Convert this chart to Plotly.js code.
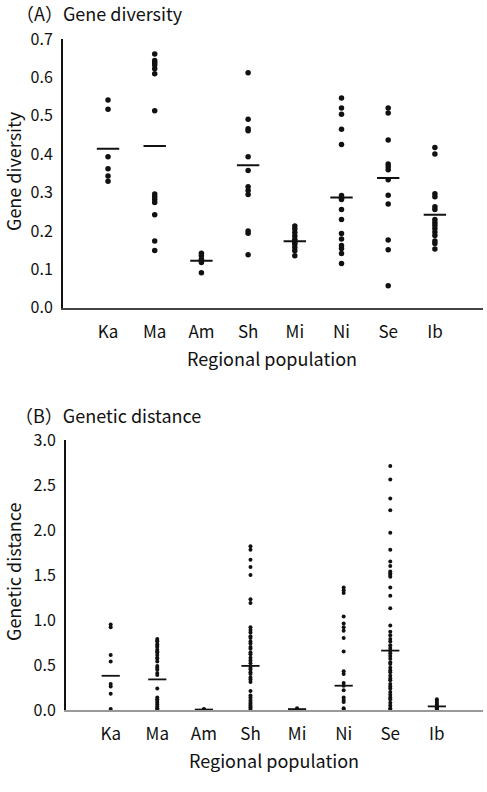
<!DOCTYPE html>
<html>
<head>
<meta charset="utf-8">
<script src="https://cdn.plot.ly/plotly-3.0.1.min.js"></script>
<style>
  html, body { margin: 0; padding: 0; background: #fff; }
  #chart { width: 487px; height: 792px; }
</style>
</head>
<body>
<div id="chart"></div>
<script>
// Regional populations (x categories, same order in both panels)
const regions = ["Ka", "Ma", "Am", "Sh", "Mi", "Ni", "Se", "Ib"];

// (A) Gene diversity per locus, by regional population
const diversityKa = [0.541, 0.517, 0.393, 0.362, 0.343, 0.329];
const diversityMa = [0.661, 0.644, 0.638, 0.632, 0.622, 0.609, 0.513, 0.296, 0.289, 0.282, 0.274, 0.242, 0.174, 0.149];
const diversityAm = [0.142, 0.135, 0.126, 0.118, 0.091];
const diversitySh = [0.612, 0.491, 0.466, 0.461, 0.393, 0.357, 0.315, 0.305, 0.295, 0.200, 0.194, 0.138];
const diversityMi = [0.213, 0.205, 0.196, 0.187, 0.178, 0.170, 0.165, 0.157, 0.148, 0.135];
const diversityNi = [0.546, 0.520, 0.504, 0.465, 0.425, 0.292, 0.285, 0.282, 0.256, 0.230, 0.193, 0.179, 0.162, 0.154, 0.141, 0.115];
const diversitySe = [0.520, 0.507, 0.437, 0.374, 0.367, 0.359, 0.333, 0.293, 0.270, 0.176, 0.151, 0.057];
const diversityIb = [0.417, 0.400, 0.297, 0.289, 0.263, 0.256, 0.230, 0.222, 0.215, 0.206, 0.197, 0.188, 0.174, 0.167, 0.153];
const diversityMean = [0.414, 0.421, 0.122, 0.371, 0.173, 0.287, 0.338, 0.242];

// (B) Pairwise genetic distance, by regional population
const distanceKa = [0.95, 0.92, 0.61, 0.54, 0.29, 0.26, 0.18, 0.01];
const distanceMa = [0.79, 0.77, 0.76, 0.73, 0.71, 0.70, 0.67, 0.65, 0.64, 0.61, 0.58, 0.57, 0.54, 0.49, 0.47, 0.45, 0.41, 0.39, 0.24, 0.14, 0.12, 0.10, 0.08, 0.06, 0.04, 0.02, 0.01];
const distanceAm = [0.01, 0.005, 0.0];
const distanceSh = [1.82, 1.78, 1.67, 1.59, 1.50, 1.23, 1.19, 0.92, 0.89, 0.86, 0.82, 0.80, 0.76, 0.74, 0.70, 0.68, 0.64, 0.62, 0.58, 0.55, 0.52, 0.47, 0.45, 0.42, 0.40, 0.36, 0.34, 0.31, 0.21, 0.16, 0.14, 0.11, 0.09, 0.07, 0.05, 0.03, 0.01];
const distanceMi = [0.02, 0.01, 0.0];
const distanceNi = [1.36, 1.33, 1.30, 1.04, 0.96, 0.92, 0.88, 0.80, 0.65, 0.43, 0.40, 0.30, 0.27, 0.22, 0.14, 0.11, 0.09, 0.02, 0.0];
const distanceSe = [2.71, 2.56, 2.35, 2.22, 1.97, 1.78, 1.65, 1.60, 1.54, 1.52, 1.50, 1.48, 1.36, 1.27, 1.13, 0.94, 0.87, 0.83, 0.79, 0.76, 0.72, 0.69, 0.66, 0.63, 0.60, 0.57, 0.53, 0.51, 0.47, 0.44, 0.42, 0.38, 0.35, 0.33, 0.29, 0.26, 0.24, 0.20, 0.17, 0.14, 0.12, 0.08, 0.05, 0.02, 0.0];
const distanceIb = [0.12, 0.10, 0.08, 0.06, 0.04, 0.03, 0.02, 0.01, 0.0];
const distanceMean = [0.38, 0.34, 0.005, 0.49, 0.01, 0.27, 0.66, 0.04];

// Tick labels for the value axes
const diversityTicks = [0.0, 0.1, 0.2, 0.3, 0.4, 0.5, 0.6, 0.7];
const distanceTicks = [0.0, 0.5, 1.0, 1.5, 2.0, 2.5, 3.0];

const FONT = '"Noto Sans CJK JP", "Noto Sans", sans-serif';
const INK = '#111';

const diversityGroups = [diversityKa, diversityMa, diversityAm, diversitySh, diversityMi, diversityNi, diversitySe, diversityIb];
const distanceGroups = [distanceKa, distanceMa, distanceAm, distanceSh, distanceMi, distanceNi, distanceSe, distanceIb];

// Flatten per-population values into one dot-strip trace
function strip(groups, xa, ya, size) {
  const xs = [], ys = [];
  groups.forEach((vals, i) => vals.forEach(v => { xs.push(regions[i]); ys.push(v); }));
  return {
    type: 'scatter', mode: 'markers', x: xs, y: ys, xaxis: xa, yaxis: ya,
    marker: { symbol: 'circle', size: size, color: INK, line: { width: 0 } },
    hoverinfo: 'x+y', showlegend: false
  };
}

// Short horizontal bar at each population mean
function meanBars(means, xa, ya, width, thick) {
  return {
    type: 'scatter', mode: 'markers', x: regions, y: means, xaxis: xa, yaxis: ya,
    marker: { symbol: 'line-ew', size: width, color: INK, line: { width: thick, color: INK } },
    hoverinfo: 'x+y', showlegend: false
  };
}

const traces = [
  strip(diversityGroups, 'x', 'y', 5.5),
  meanBars(diversityMean, 'x', 'y', 16, 2),
  strip(distanceGroups, 'x2', 'y2', 4),
  meanBars(distanceMean, 'x2', 'y2', 13, 1.8)
];

const H = 792, W = 487;
const px = v => v / W;          // horizontal pixel -> paper fraction
const py = v => 1 - v / H;      // vertical pixel (from top) -> paper fraction

const catAxis = (domain, range, lineColor) => ({
  type: 'category', categoryorder: 'array', categoryarray: regions,
  domain: domain, range: range, showgrid: false, zeroline: false,
  showline: true, linecolor: lineColor, linewidth: 2, ticks: '',
  ticklabelstandoff: 8,
  tickfont: { family: FONT, size: 17, color: INK }, fixedrange: true
});

const valAxis = (domain, range, ticks, anchor) => ({
  domain: domain, range: range, anchor: anchor,
  tickvals: ticks, ticktext: ticks.map(t => t.toFixed(1)),
  showgrid: false, zeroline: false, showline: true, linecolor: INK, linewidth: 2,
  ticks: '', ticklabelstandoff: 5,
  tickfont: { family: FONT, size: 16, color: INK }, fixedrange: true
});

const label = (text, x, y, size, extra) => Object.assign({
  text: text, xref: 'paper', yref: 'paper', x: px(x), y: py(y),
  showarrow: false, font: { family: FONT, size: size, color: INK }
}, extra || {});

const layout = {
  width: W, height: H,
  margin: { l: 0, r: 0, t: 0, b: 0 },
  paper_bgcolor: '#fff', plot_bgcolor: '#fff',
  showlegend: false,
  xaxis: Object.assign(catAxis([px(63), px(483)], [-0.964, 8.03], '#444'), { anchor: 'y' }),
  yaxis: valAxis([py(307.7), py(38.9)], [0, 0.7], diversityTicks, 'x'),
  xaxis2: Object.assign(catAxis([px(66), px(483)], [-0.959, 7.99], '#999'), { anchor: 'y2' }),
  yaxis2: valAxis([py(710), py(440)], [0, 3.0], distanceTicks, 'x2'),
  annotations: [
    label('（A）Gene diversity', 14, 13, 18, { xanchor: 'left', yanchor: 'middle' }),
    label('Gene diversity', 13, 171, 18, { textangle: -90, xanchor: 'center', yanchor: 'middle' }),
    label('Regional population', 272, 358, 18, { xanchor: 'center', yanchor: 'middle' }),
    label('（B）Genetic distance', 13, 415, 18, { xanchor: 'left', yanchor: 'middle' }),
    label('Genetic distance', 13, 572, 18, { textangle: -90, xanchor: 'center', yanchor: 'middle' }),
    label('Regional population', 274, 760, 18, { xanchor: 'center', yanchor: 'middle' })
  ]
};

Plotly.newPlot('chart', traces, layout, { staticPlot: true, displayModeBar: false });
</script>
</body>
</html>
